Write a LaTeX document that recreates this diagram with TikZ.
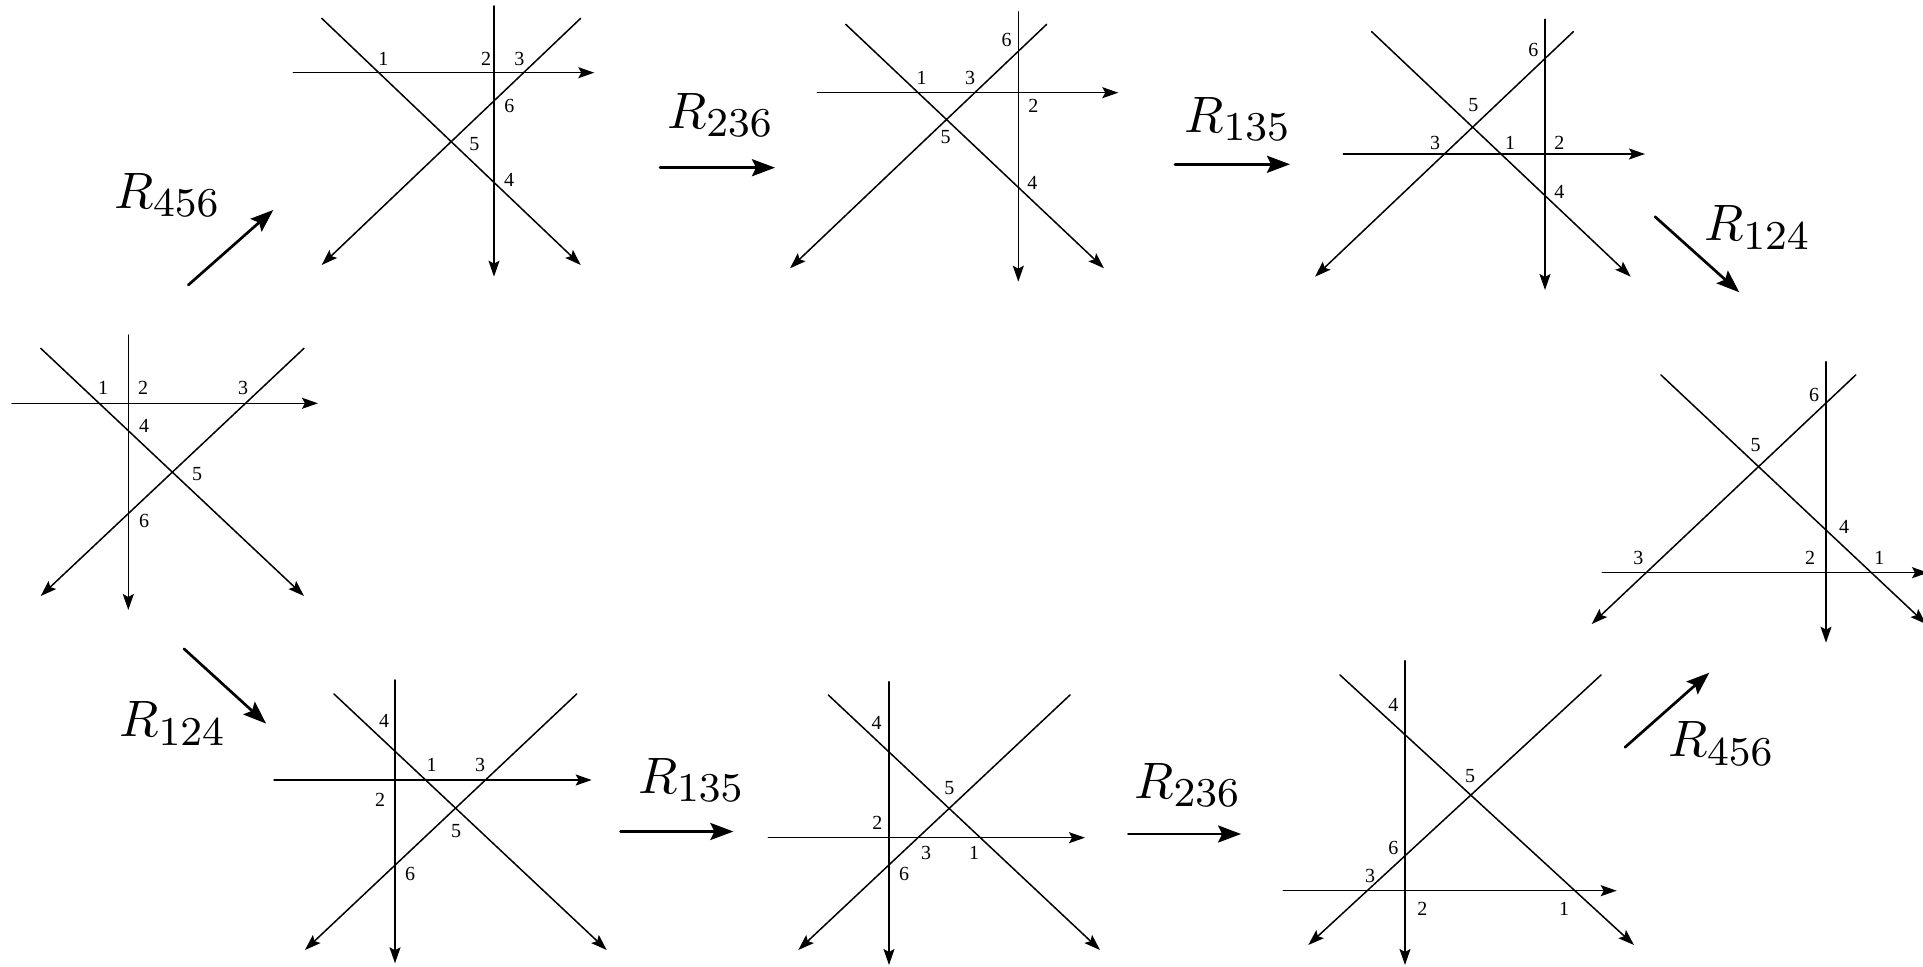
\documentclass[tikz,border=0pt]{standalone}
\usepackage[no-math]{fontspec}
\setmainfont{Liberation Serif}
\usepackage{tikz}
\usetikzlibrary{arrows.meta}
\DeclareMathSizes{10}{10}{8}{6}

\begin{document}
\begin{tikzpicture}[x=0.5pt,y=-0.5pt,line cap=round,
  ln/.style={line width=0.75pt,-{Stealth[length=8pt,width=5.5pt,inset=1.5pt]}},
  lbl/.style={inner sep=0pt,font=\fontsize{10}{12}\selectfont},
  rarr/.style={line width=1.35pt,-{Stealth[length=11.5pt,width=8.5pt,inset=2pt]}},
  rlbl/.style={inner sep=0pt,scale=2.56,font=\normalsize}]
\useasboundingbox (0,0) rectangle (1923,967);
\draw[ln] (12,403.3) -- (318,403.3);
\draw[ln] (128.3,335) -- (128.3,610);
\draw[ln] (40.7,348.3) -- (304,596);
\draw[ln] (304,348.3) -- (40.7,596);
\node[lbl] (A1) at (103,388) {1};
\node[lbl] (A2) at (143,388) {2};
\node[lbl] (A3) at (243,388) {3};
\node[lbl] (A4) at (144,426) {4};
\node[lbl] (A5) at (197,474) {5};
\node[lbl] (A6) at (144,521) {6};
\draw[ln] (293.3,72.7) -- (594.3,72.7);
\draw[ln] (494,6) -- (494,276.7);
\draw[ln] (321.7,18.3) -- (580.7,265);
\draw[ln] (580.7,18.3) -- (321.7,265);
\node[lbl] (B1) at (383.3,59.3) {1};
\node[lbl] (B2) at (486,59.3) {2};
\node[lbl] (B3) at (519.3,59.3) {3};
\node[lbl] (B6) at (509.3,106) {6};
\node[lbl] (B5) at (474.3,144) {5};
\node[lbl] (B4) at (509,180) {4};
\draw[ln] (817.3,92.7) -- (1118.3,92.7);
\draw[ln] (1018.3,11.7) -- (1018.3,281.7);
\draw[ln] (845.7,24.3) -- (1104,268.3);
\draw[ln] (1046.7,24.3) -- (790,268.3);
\node[lbl] (C6) at (1006.7,40) {6};
\node[lbl] (C1) at (921.7,78.3) {1};
\node[lbl] (C3) at (970,78.3) {3};
\node[lbl] (C2) at (1033.3,106) {2};
\node[lbl] (C5) at (945.7,136.7) {5};
\node[lbl] (C4) at (1032.3,183.3) {4};
\draw[ln] (1343.3,154) -- (1645,154);
\draw[ln] (1545,19.3) -- (1545,290);
\draw[ln] (1371.7,31.7) -- (1630.7,276.7);
\draw[ln] (1573.3,31.7) -- (1315,276.7);
\node[lbl] (D6) at (1533.3,50) {6};
\node[lbl] (D5) at (1473.3,105) {5};
\node[lbl] (D3) at (1435,143.3) {3};
\node[lbl] (D1) at (1510,143.3) {1};
\node[lbl] (D2) at (1559.3,143.3) {2};
\node[lbl] (D4) at (1559.3,191.7) {4};
\draw[ln] (1602.3,572.7) -- (1928,572.7);
\draw[ln] (1826,361.7) -- (1826,642.7);
\draw[ln] (1661,375) -- (1926,624);
\draw[ln] (1855.7,375) -- (1591.7,624);
\node[lbl] (E6) at (1814,395) {6};
\node[lbl] (E5) at (1755.7,445) {5};
\node[lbl] (E4) at (1844,526.7) {4};
\node[lbl] (E3) at (1638.3,558.3) {3};
\node[lbl] (E2) at (1810,558.3) {2};
\node[lbl] (E1) at (1879.3,558.3) {1};
\draw[ln] (1283.3,890.7) -- (1616.7,890.7);
\draw[ln] (1405,660.7) -- (1405,965);
\draw[ln] (1340,675) -- (1634,945);
\draw[ln] (1601,675) -- (1308.3,945);
\node[lbl] (F4) at (1393.3,705) {4};
\node[lbl] (F5) at (1470,776) {5};
\node[lbl] (F6) at (1393.3,848.3) {6};
\node[lbl] (F3) at (1370,876) {3};
\node[lbl] (F2) at (1422.3,909.3) {2};
\node[lbl] (F1) at (1564,909.3) {1};
\draw[ln] (768.3,837.7) -- (1085,837.7);
\draw[ln] (889,681.7) -- (889,965);
\draw[ln] (828.3,695) -- (1100,950);
\draw[ln] (1070,695) -- (798.3,950);
\node[lbl] (G4) at (876.7,722.7) {4};
\node[lbl] (G5) at (949.3,788.3) {5};
\node[lbl] (G2) at (877.3,823.3) {2};
\node[lbl] (G3) at (926,853.3) {3};
\node[lbl] (G1) at (974,853.3) {1};
\node[lbl] (G6) at (904,874) {6};
\draw[ln] (274,780) -- (591.7,780);
\draw[ln] (395,680) -- (395,963.3);
\draw[ln] (334,694) -- (606.7,950);
\draw[ln] (576.7,694) -- (305,950);
\node[lbl] (H4) at (384,720.7) {4};
\node[lbl] (H1) at (431.7,765) {1};
\node[lbl] (H3) at (480,765) {3};
\node[lbl] (H2) at (380,800) {2};
\node[lbl] (H5) at (456,830.7) {5};
\node[lbl] (H6) at (410,874) {6};
\coordinate (AB-s) at (188.3,285);
\coordinate (AB-e) at (273.3,210);
\coordinate (BC-s) at (660,167.7);
\coordinate (BC-e) at (775,167.7);
\coordinate (CD-s) at (1175,164.3);
\coordinate (CD-e) at (1290,164.3);
\coordinate (DE-s) at (1655,216.7);
\coordinate (DE-e) at (1739.3,292.3);
\coordinate (AH-s) at (184,648.8);
\coordinate (AH-e) at (266.1,723.6);
\coordinate (HG-s) at (620.6,831.5);
\coordinate (HG-e) at (733.4,831.5);
\coordinate (GF-s) at (1128.3,834);
\coordinate (GF-e) at (1241.1,834);
\coordinate (FE-s) at (1625,747.3);
\coordinate (FE-e) at (1709.3,672.7);
\draw[rarr] (AB-s) -- (AB-e);
\draw[rarr] (BC-s) -- (BC-e);
\draw[rarr] (CD-s) -- (CD-e);
\draw[rarr] (DE-s) -- (DE-e);
\draw[rarr] (AH-s) -- (AH-e);
\draw[rarr] (HG-s) -- (HG-e);
\draw[rarr] (GF-s) -- (GF-e);
\draw[rarr] (FE-s) -- (FE-e);
\node[rlbl] (rAB) at (167.5,195) {$R_{456}$};
\node[rlbl] (rBC) at (720.8,115) {$R_{236}$};
\node[rlbl] (rCD) at (1238,119) {$R_{135}$};
\node[rlbl] (rDE) at (1757.8,227.5) {$R_{124}$};
\node[rlbl] (rAH) at (173,723.5) {$R_{124}$};
\node[rlbl] (rHG) at (691.7,780) {$R_{135}$};
\node[rlbl] (rGF) at (1188,785) {$R_{236}$};
\node[rlbl] (rFE) at (1721.7,743.8) {$R_{456}$};
\end{tikzpicture}
\end{document}
